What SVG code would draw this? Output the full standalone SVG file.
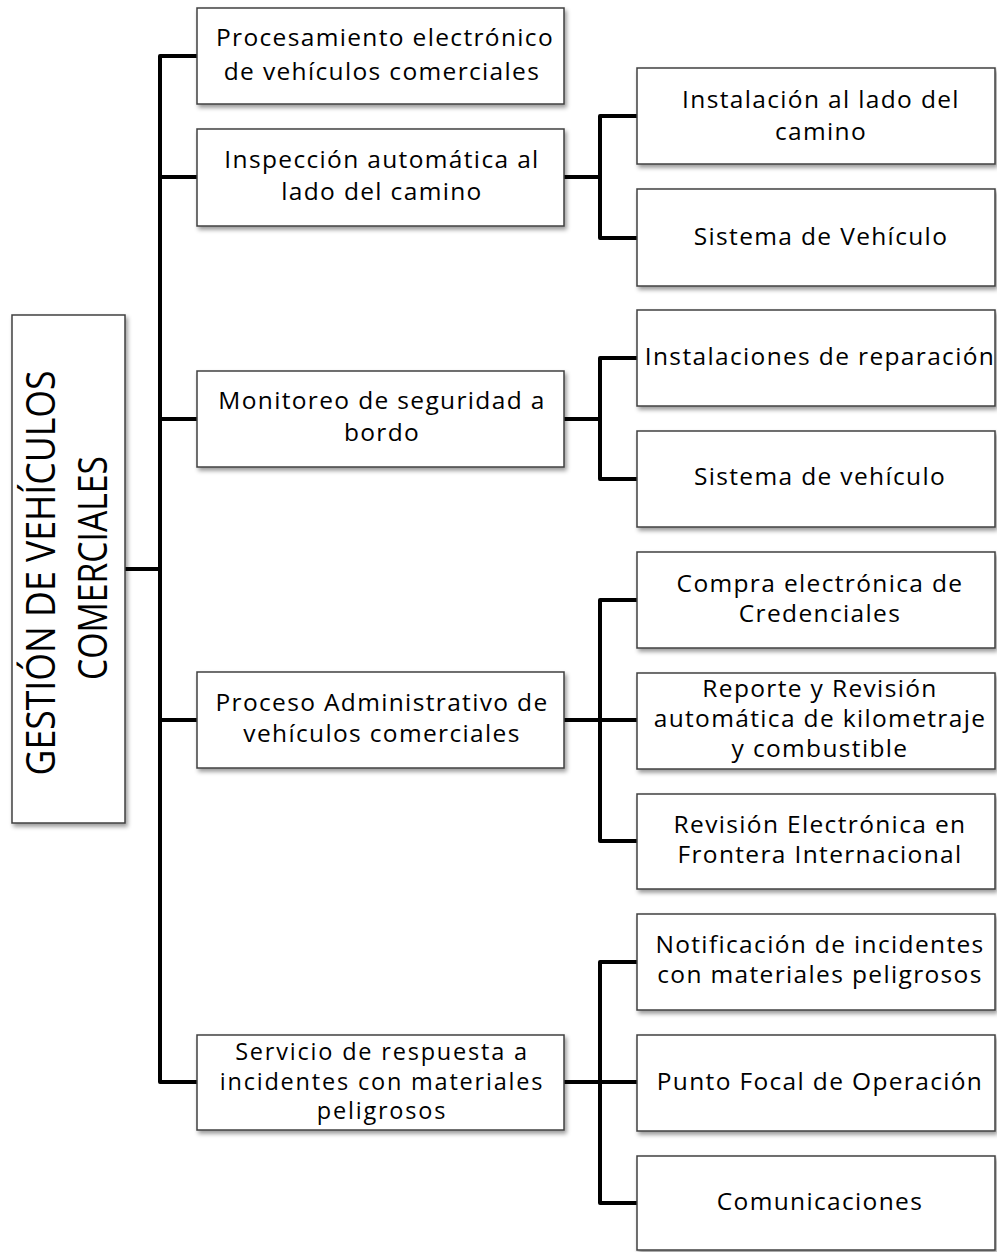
<svg xmlns="http://www.w3.org/2000/svg" width="997" height="1252" viewBox="0 0 997 1252">
<defs>
<filter id="sh" x="-10%" y="-10%" width="130%" height="130%">
<feDropShadow dx="2" dy="3" stdDeviation="2" flood-color="#000" flood-opacity="0.4"/>
</filter>
<style>
.box{fill:#fff;stroke:#404040;stroke-width:1.5;filter:url(#sh)}
.t{font-family:"Open Sans","DejaVu Sans",sans-serif;font-size:24.5px;letter-spacing:1.35px;fill:#000;text-anchor:middle}
.s{font-size:23.5px;letter-spacing:1.8px}
.r{font-family:"Open Sans","Liberation Sans",sans-serif;font-size:40px;fill:#000;text-anchor:middle}
.c{fill:none;stroke:#000;stroke-width:4;stroke-linejoin:round;stroke-linecap:butt}
</style>
</defs>
<rect width="997" height="1252" fill="#fff"/>
<g id="connectors">
<path class="c" d="M125 569H160"/>
<path class="c" d="M197 56H160V1082H197"/>
<path class="c" d="M160 177H197M160 419H197M160 720H197"/>
<path class="c" d="M564 177H600"/>
<path class="c" d="M637 116H600V238H637"/>
<path class="c" d="M564 419H600"/>
<path class="c" d="M637 358H600V479H637"/>
<path class="c" d="M564 720H637"/>
<path class="c" d="M637 600H600V841H637"/>
<path class="c" d="M564 1082H637"/>
<path class="c" d="M637 962H600V1203H637"/>
</g>
<g id="root">
<rect class="box" x="12" y="315" width="113" height="508"/>
<text class="r" transform="translate(55,573) rotate(-90)" x="0" y="0" textLength="405" lengthAdjust="spacingAndGlyphs">GESTIÓN DE VEHÍCULOS</text>
<text class="r" transform="translate(107,568) rotate(-90)" x="0" y="0" textLength="224" lengthAdjust="spacingAndGlyphs">COMERCIALES</text>
</g>
<g id="n1">
<rect class="box" x="197" y="8" width="367" height="96"/>
<text class="t" x="385" y="46">Procesamiento electrónico</text>
<text class="t" x="382" y="80">de vehículos comerciales</text>
</g>
<g id="n2">
<rect class="box" x="197" y="129" width="367" height="97"/>
<text class="t" x="382" y="168">Inspección automática al</text>
<text class="t" x="382" y="200">lado del camino</text>
</g>
<g id="n3">
<rect class="box" x="197" y="371" width="367" height="96"/>
<text class="t" x="382" y="409">Monitoreo de seguridad a</text>
<text class="t" x="382" y="441">bordo</text>
</g>
<g id="n4">
<rect class="box" x="197" y="672" width="367" height="96"/>
<text class="t" x="382" y="711">Proceso Administrativo de</text>
<text class="t" x="382" y="742">vehículos comerciales</text>
</g>
<g id="n5">
<rect class="box" x="197" y="1035" width="367" height="95"/>
<text class="t s" x="382" y="1060">Servicio de respuesta a</text>
<text class="t s" x="382" y="1090">incidentes con materiales</text>
<text class="t s" x="382" y="1119">peligrosos</text>
</g>
<g id="n21">
<rect class="box" x="637" y="68" width="358" height="96"/>
<text class="t" x="821" y="108">Instalación al lado del</text>
<text class="t" x="821" y="140">camino</text>
</g>
<g id="n22">
<rect class="box" x="637" y="189" width="358" height="97"/>
<text class="t" x="821" y="245">Sistema de Vehículo</text>
</g>
<g id="n31">
<rect class="box" x="637" y="310" width="358" height="96"/>
<text class="t" x="820" y="365">Instalaciones de reparación</text>
</g>
<g id="n32">
<rect class="box" x="637" y="431" width="358" height="96"/>
<text class="t" x="820" y="485">Sistema de vehículo</text>
</g>
<g id="n41">
<rect class="box" x="637" y="552" width="358" height="96"/>
<text class="t" x="820" y="592">Compra electrónica de</text>
<text class="t" x="820" y="622">Credenciales</text>
</g>
<g id="n42">
<rect class="box" x="637" y="673" width="358" height="96"/>
<text class="t" x="820" y="697">Reporte y Revisión</text>
<text class="t" x="820" y="727">automática de kilometraje</text>
<text class="t" x="820" y="757">y combustible</text>
</g>
<g id="n43">
<rect class="box" x="637" y="794" width="358" height="95"/>
<text class="t" x="820" y="833">Revisión Electrónica en</text>
<text class="t" x="820" y="863">Frontera Internacional</text>
</g>
<g id="n51">
<rect class="box" x="637" y="914" width="358" height="96"/>
<text class="t" x="820" y="953">Notificación de incidentes</text>
<text class="t" x="820" y="983">con materiales peligrosos</text>
</g>
<g id="n52">
<rect class="box" x="637" y="1035" width="358" height="96"/>
<text class="t" x="820" y="1090">Punto Focal de Operación</text>
</g>
<g id="n53">
<rect class="box" x="637" y="1156" width="358" height="94"/>
<text class="t" x="820" y="1210">Comunicaciones</text>
</g>
</svg>
